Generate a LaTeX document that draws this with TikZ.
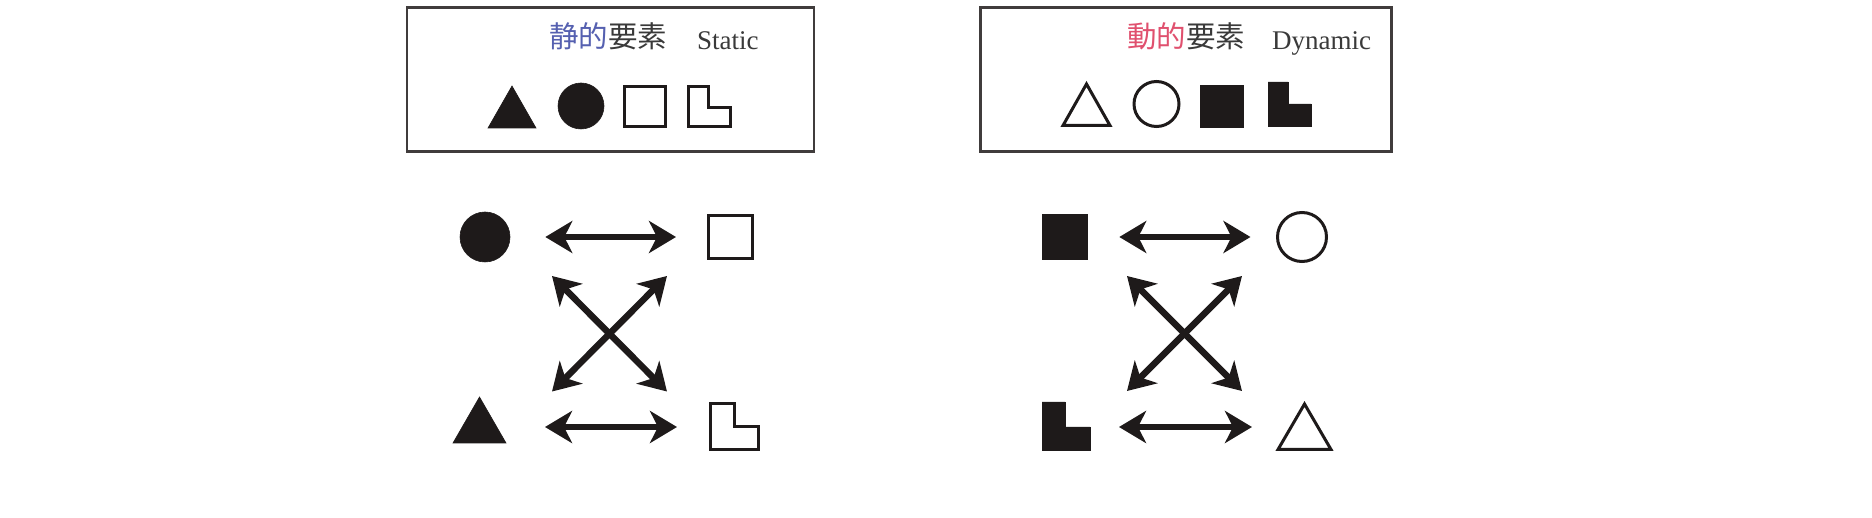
\documentclass[tikz,border=0pt]{standalone}
\usepackage{fontspec}
\setmainfont{Liberation Serif}
\newfontfamily\cjk{Noto Sans CJK JP}
\usetikzlibrary{arrows.meta}
\definecolor{ink}{HTML}{1E1A1A}
\definecolor{txt}{HTML}{3A3A3A}
\definecolor{jblue}{HTML}{5560B0}
\definecolor{jred}{HTML}{E0506E}
\tikzset{
  legendbox/.style={draw=ink!85, line width=2.5pt},
  solidshape/.style={fill=ink, draw=ink, line width=0.6pt},
  openshape/.style={draw=ink, line width=3pt, fill=white},
  dblarrow/.style={draw=ink, line width=6.5pt,
    {Stealth[length=27pt,width=32pt,inset=8pt]}-{Stealth[length=27pt,width=32pt,inset=8pt]}},
  cjklabel/.style={inner sep=0pt, anchor=base west, font=\cjk\fontsize{29.5}{32}\selectfont, text=txt},
  enlabel/.style={inner sep=0pt, anchor=base west, font=\fontsize{27}{30}\selectfont, text=txt},
}
\begin{document}
\begin{tikzpicture}[x=1pt,y=-1pt]
\useasboundingbox[fill=white] (0,0) rectangle (1872,518);

% ---------- legend boxes ----------
\node[legendbox, minimum width=407pt, minimum height=144pt, inner sep=0pt] (sbox) at (610.5,79.5) {};
\node[legendbox, minimum width=411pt, minimum height=144pt, inner sep=0pt] (dbox) at (1186,79.5) {};

\node[cjklabel] (stitle) at (549,48) {\textcolor{jblue}{静的}要素};
\node[enlabel] (sen) at (697,50) {Static};
\node[cjklabel] (dtitle) at (1127,48) {\textcolor{jred}{動的}要素};
\node[enlabel] (den) at (1272,50) {Dynamic};

% static legend shapes
\fill[solidshape] (488,128) -- (536,128) -- (512,86) -- cycle;
\node[circle, solidshape, minimum size=46pt, inner sep=0pt] (slc) at (581,106) {};
\node[rectangle, openshape, minimum width=41pt, minimum height=40pt, inner sep=0pt] (sls) at (645,106.5) {};
\draw[openshape, line join=miter] (688.5,86.5) -- (708,86.5) -- (708,108) -- (730.5,108) -- (730.5,126.5) -- (688.5,126.5) -- cycle;

% dynamic legend shapes
\draw[openshape, line join=miter] (1063,125.5) -- (1110,125.5) -- (1086.5,84) -- cycle;
\node[circle, openshape, minimum size=45pt, inner sep=0pt] (dlc) at (1156.5,104) {};
\node[rectangle, solidshape, minimum width=43pt, minimum height=42pt, inner sep=0pt] (dls) at (1221.5,106) {};
\fill[solidshape] (1268,82) -- (1288,82) -- (1288,104) -- (1311,104) -- (1311,126) -- (1268,126) -- cycle;

% ---------- static relation diagram ----------
\node[circle, solidshape, minimum size=50pt, inner sep=0pt] (scirc) at (485,237) {};
\node[rectangle, openshape, minimum width=44pt, minimum height=43pt, inner sep=0pt] (ssq) at (730.5,237) {};
\fill[solidshape] (453,443) -- (506,443) -- (479.5,397) -- cycle;
\draw[openshape, line join=miter] (710.5,403.5) -- (734,403.5) -- (734,427) -- (758.5,427) -- (758.5,449.5) -- (710.5,449.5) -- cycle;

\coordinate (s-tl) at (552,276);
\coordinate (s-tr) at (667,276);
\coordinate (s-bl) at (552,391.5);
\coordinate (s-br) at (667,391.5);
\coordinate (s-ml) at (545,427);
\coordinate (s-mr) at (677,427);

\draw[dblarrow, shorten <=35pt, shorten >=31pt] (scirc.east) -- (ssq.west);
\draw[dblarrow] (s-ml) -- (s-mr);
\draw[dblarrow] (s-tl) -- (s-br);
\draw[dblarrow] (s-tr) -- (s-bl);

% ---------- dynamic relation diagram ----------
\node[rectangle, solidshape, minimum width=45pt, minimum height=45pt, inner sep=0pt] (dsq) at (1064.5,237) {};
\node[circle, openshape, minimum size=49pt, inner sep=0pt] (dcirc) at (1302,237) {};
\fill[solidshape] (1042,402) -- (1065,402) -- (1065,427) -- (1090,427) -- (1090,450) -- (1042,450) -- cycle;
\draw[openshape, line join=miter] (1278,449.5) -- (1331,449.5) -- (1304.5,404) -- cycle;

\coordinate (d-tl) at (1127,276);
\coordinate (d-tr) at (1242,276);
\coordinate (d-bl) at (1127,391);
\coordinate (d-br) at (1242,391);
\coordinate (d-ml) at (1119,427);
\coordinate (d-mr) at (1252,427);

\draw[dblarrow, shorten <=32pt, shorten >=25.5pt] (dsq.east) -- (dcirc.west);
\draw[dblarrow] (d-ml) -- (d-mr);
\draw[dblarrow] (d-tl) -- (d-br);
\draw[dblarrow] (d-tr) -- (d-bl);
\end{tikzpicture}
\end{document}
